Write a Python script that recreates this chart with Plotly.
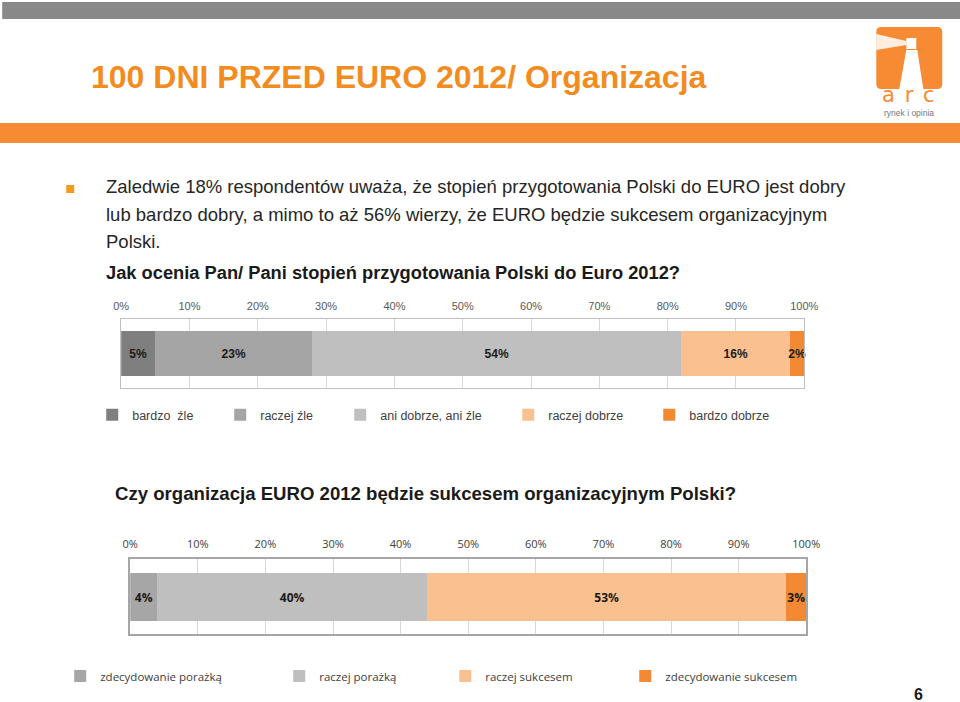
import plotly.graph_objects as go

W, H = 960, 702

# the photographed page shows the figure slightly compressed horizontally;
# positions below are given in reference pixels and converted here
SX_SCALE, SX_OFF = 0.977, 7.8

def px(x):
    return (x - SX_OFF) / SX_SCALE / W

def py(y):
    return 1 - y / H

# ---------------- data ----------------
q1_categories = ["bardzo  źle", "raczej źle", "ani dobrze, ani źle", "raczej dobrze", "bardzo dobrze"]
q1_values = [5, 23, 54, 16, 2]
q1_colors = ["#7F7F7F", "#A5A5A5", "#BFBFBF", "#FAC08F", "#F38A33"]

q2_categories = ["zdecydowanie porażką", "raczej porażką", "raczej sukcesem", "zdecydowanie sukcesem"]
q2_values = [4, 40, 53, 3]
q2_colors = ["#A6A6A6", "#BFBFBF", "#FAC090", "#F38A33"]

tick_vals = list(range(0, 101, 10))
tick_text = [f"{v}%" for v in tick_vals]

title_text = "100 DNI PRZED EURO 2012/ Organizacja"
bullet_lines = [
    "Zaledwie 18% respondentów uważa, że stopień przygotowania Polski do EURO jest dobry",
    "lub bardzo dobry, a mimo to aż 56% wierzy, że EURO będzie sukcesem organizacyjnym",
    "Polski.",
]
q1_title = "Jak ocenia Pan/ Pani stopień przygotowania Polski do Euro 2012?"
q2_title = "Czy organizacja EURO 2012 będzie sukcesem organizacyjnym Polski?"
page_no = "6"

# legend text start positions (reference px)
q1_legend_x = [130, 258, 378, 546, 687]
q2_legend_x = [98, 317, 483, 663]

fig = go.Figure()

# ---------------- chart 1 ----------------
for i, (name, val, col) in enumerate(zip(q1_categories, q1_values, q1_colors)):
    lg = "legend" if i == 0 else f"legend{i + 1}"
    fig.add_trace(go.Bar(
        x=[val], y=["q1"], orientation="h", name=name,
        marker=dict(color=col, line=dict(width=0)),
        text=[f"{val}%"], textposition="inside", insidetextanchor="middle",
        textangle=0, constraintext="none", cliponaxis=False,
        textfont=dict(family="Liberation Sans", size=12, color="#1A1A1A", weight="bold"),
        xaxis="x", yaxis="y", width=0.65, legend=lg, hoverinfo="skip",
    ))

# ---------------- chart 2 ----------------
for j, (name, val, col) in enumerate(zip(q2_categories, q2_values, q2_colors)):
    lg = f"legend{len(q1_categories) + j + 1}"
    fig.add_trace(go.Bar(
        x=[val], y=["q2"], orientation="h", name=name,
        marker=dict(color=col, line=dict(width=0)),
        text=[f"{val}%"], textposition="inside", insidetextanchor="middle",
        textangle=0, constraintext="none", cliponaxis=False,
        textfont=dict(family="Open Sans", size=12, color="#1A1A1A", weight="bold"),
        xaxis="x2", yaxis="y2", width=0.64, legend=lg, hoverinfo="skip",
    ))

axis_common = dict(range=[0, 100], tickmode="array", tickvals=tick_vals, ticktext=tick_text,
                   side="top", showgrid=True, gridcolor="#D9D9D9", gridwidth=1,
                   zeroline=False, showline=True, mirror=True, ticks="", fixedrange=True)

fig.update_layout(
    width=W, height=H, autosize=False, margin=dict(l=0, r=0, t=0, b=0),
    paper_bgcolor="white", plot_bgcolor="white",
    barmode="stack", bargap=0,
    xaxis=dict(domain=[px(121), px(804)], anchor="y", linecolor="#BFBFBF",
               tickfont=dict(family="Liberation Sans", size=11, color="#595959"),
               ticklabelstandoff=4, **axis_common),
    yaxis=dict(domain=[py(388), py(319)], anchor="x", range=[-0.5, 0.5],
               showticklabels=False, showgrid=False, zeroline=False,
               showline=True, mirror=True, linecolor="#BFBFBF", fixedrange=True),
    xaxis2=dict(domain=[px(130), px(806)], anchor="y2", linecolor="#A6A6A6", linewidth=2,
                tickfont=dict(family="Open Sans", size=11, color="#404040"),
                ticklabelstandoff=5, **axis_common),
    yaxis2=dict(domain=[py(634), py(559)], anchor="x2", range=[-0.5, 0.5],
                showticklabels=False, showgrid=False, zeroline=False,
                showline=True, mirror=True, linecolor="#A6A6A6", linewidth=2, fixedrange=True),
    showlegend=True,
)

# legends, one per entry, positioned like the original
leg_common = dict(orientation="h", xanchor="left", yanchor="middle",
                  bgcolor="rgba(0,0,0,0)", borderwidth=0, itemwidth=30,
                  itemclick=False, itemdoubleclick=False)
for i in range(len(q1_categories)):
    key = "legend" if i == 0 else f"legend{i + 1}"
    fig.update_layout({key: dict(x=px(q1_legend_x[i] - 38), y=py(415),
                                 font=dict(family="Liberation Sans", size=12.5, color="#404040"),
                                 **leg_common)})
for j in range(len(q2_categories)):
    key = f"legend{len(q1_categories) + j + 1}"
    fig.update_layout({key: dict(x=px(q2_legend_x[j] - 38), y=py(676),
                                 font=dict(family="Open Sans", size=11.5, color="#404040"),
                                 **leg_common)})

# ---------------- decoration ----------------
shapes = [
    dict(type="rect", xref="paper", yref="paper", x0=px(2), x1=1.02, y0=py(19), y1=py(2),
         fillcolor="#898989", line=dict(width=0), layer="below"),
    dict(type="rect", xref="paper", yref="paper", x0=-0.02, x1=1.02, y0=py(143), y1=py(123),
         fillcolor="#F68B33", line=dict(width=0), layer="below"),
    dict(type="rect", xref="paper", yref="paper", x0=px(66), x1=px(74), y0=py(193), y1=py(185),
         fillcolor="#F39A1E", line=dict(width=0)),
    # logo square
    dict(type="path", xref="paper", yref="paper",
         path=(f"M {px(881)},{py(27)} L {px(937)},{py(27)} Q {px(942)},{py(27)} {px(942)},{py(32)} "
               f"L {px(942)},{py(84)} Q {px(942)},{py(89)} {px(937)},{py(89)} "
               f"L {px(881)},{py(89)} Q {px(876)},{py(89)} {px(876)},{py(84)} "
               f"L {px(876)},{py(32)} Q {px(876)},{py(27)} {px(881)},{py(27)} Z"),
         fillcolor="#F68B33", line=dict(width=0)),
    # lighthouse tower
    dict(type="path", xref="paper", yref="paper",
         path=(f"M {px(899)},{py(89)} L {px(906)},{py(50)} L {px(917)},{py(50)} "
               f"L {px(923)},{py(89)} Z"),
         fillcolor="white", line=dict(width=0)),
    # lamp
    dict(type="rect", xref="paper", yref="paper", x0=px(906), x1=px(916), y0=py(49), y1=py(38),
         fillcolor="white", line=dict(width=0)),
    # beam
    dict(type="path", xref="paper", yref="paper",
         path=f"M {px(906)},{py(41)} L {px(876)},{py(34)} L {px(876)},{py(50)} L {px(906)},{py(45)} Z",
         fillcolor="rgba(255,255,255,0.85)", line=dict(width=0)),
]
fig.update_layout(shapes=shapes)

ann = []
ann.append(dict(text=f"<b>{title_text}</b>", x=px(89), y=py(77), xref="paper", yref="paper",
                xanchor="left", yanchor="middle", showarrow=False,
                font=dict(family="Liberation Sans", size=32, color="#F28C1E")))
ann.append(dict(text="<span style='letter-spacing:10px'>arc</span>", x=px(913), y=py(95),
                xref="paper", yref="paper", xanchor="center", yanchor="middle", showarrow=False,
                font=dict(family="DejaVu Sans", size=21, color="#F68B33")))
ann.append(dict(text="rynek i opinia", x=px(909), y=py(113), xref="paper", yref="paper",
                xanchor="center", yanchor="middle", showarrow=False,
                font=dict(family="Liberation Sans", size=8.5, color="#777777")))
for k, line in enumerate(bullet_lines):
    ann.append(dict(text=line, x=px(104), y=py(187 + 27.5 * k), xref="paper", yref="paper",
                    xanchor="left", yanchor="middle", showarrow=False,
                    font=dict(family="Liberation Sans", size=18.5, color="#262626")))
ann.append(dict(text=f"<b>{q1_title}</b>", x=px(104), y=py(272), xref="paper", yref="paper",
                xanchor="left", yanchor="middle", showarrow=False,
                font=dict(family="Liberation Sans", size=18.3, color="#1A1A1A")))
ann.append(dict(text=f"<b>{q2_title}</b>", x=px(113), y=py(493), xref="paper", yref="paper",
                xanchor="left", yanchor="middle", showarrow=False,
                font=dict(family="Liberation Sans", size=18.6, color="#1A1A1A")))
ann.append(dict(text=f"<b>{page_no}</b>", x=px(918), y=py(705), xref="paper", yref="paper",
                xanchor="center", yanchor="bottom", showarrow=False,
                font=dict(family="Liberation Sans", size=16, color="#1A1A1A")))
fig.update_layout(annotations=ann)

fig.write_html(
    "out.html",
    config={"responsive": False, "displayModeBar": False},
    post_script="document.body.style.margin='0';document.body.style.overflow='hidden';",
)
